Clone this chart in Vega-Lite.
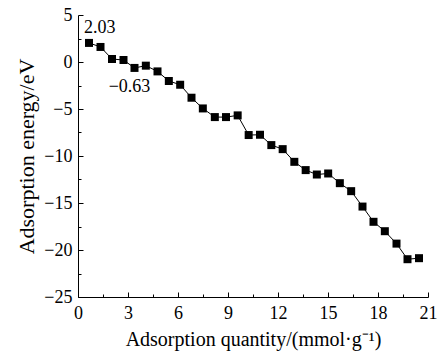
{
  "$schema": "https://vega.github.io/schema/vega-lite/v6.json",
  "width": 350,
  "height": 282,
  "autosize": "none",
  "padding": {"left": 78, "top": 15, "right": 11, "bottom": 54},
  "background": "white",
  "config": {
    "view": {"stroke": null},
    "font": "Liberation Serif",
    "text": {"font": "Liberation Serif"},
    "axis": {"grid": false, "domainColor": "black", "tickColor": "black", "labelColor": "black", "titleColor": "black", "labelFont": "Liberation Serif", "titleFont": "Liberation Serif", "labelFontSize": 18, "titleFontSize": 20, "titleFontWeight": "normal", "domainWidth": 1, "tickWidth": 1}
  },
  "data": {"values": [
    {"q": 0.66, "e": 2.03, "label": "2.03", "pos": "top"},
    {"q": 1.35, "e": 1.6},
    {"q": 2.04, "e": 0.32},
    {"q": 2.73, "e": 0.21},
    {"q": 3.39, "e": -0.63, "label": "−0.63", "pos": "bottom"},
    {"q": 4.07, "e": -0.39},
    {"q": 4.77, "e": -1.0},
    {"q": 5.45, "e": -2.02},
    {"q": 6.13, "e": -2.42},
    {"q": 6.81, "e": -3.8},
    {"q": 7.49, "e": -4.94},
    {"q": 8.21, "e": -5.86},
    {"q": 8.88, "e": -5.86},
    {"q": 9.58, "e": -5.68},
    {"q": 10.24, "e": -7.77},
    {"q": 10.92, "e": -7.74},
    {"q": 11.6, "e": -8.84},
    {"q": 12.28, "e": -9.27},
    {"q": 12.98, "e": -10.62},
    {"q": 13.66, "e": -11.5},
    {"q": 14.33, "e": -11.97},
    {"q": 15.01, "e": -11.86},
    {"q": 15.71, "e": -12.89},
    {"q": 16.39, "e": -13.74},
    {"q": 17.07, "e": -15.38},
    {"q": 17.73, "e": -17.0},
    {"q": 18.41, "e": -18.0},
    {"q": 19.11, "e": -19.32},
    {"q": 19.77, "e": -20.98},
    {"q": 20.46, "e": -20.87}
  ]},
  "encoding": {
    "x": {"field": "q", "type": "quantitative", "scale": {"domain": [0, 21], "nice": false},
      "axis": {"values": [0, 1.5, 3, 4.5, 6, 7.5, 9, 10.5, 12, 13.5, 15, 16.5, 18, 19.5, 21],
        "labelExpr": "datum.value % 3 === 0 ? datum.label : ''",
        "tickSize": {"condition": {"test": "datum.value % 3 === 0", "value": -5}, "value": -3},
        "labelPadding": 12, "labelFlush": false, "labelOverlap": false,
        "title": "Adsorption quantity/(mmol·g⁻¹)", "titleFontSize": 20, "titlePadding": 5}},
    "y": {"field": "e", "type": "quantitative", "scale": {"domain": [-25, 5], "nice": false},
      "axis": {"values": [-25, -22.5, -20, -17.5, -15, -12.5, -10, -7.5, -5, -2.5, 0, 2.5, 5],
        "labelExpr": "datum.value % 5 === 0 ? replace(datum.label, '-', '−') : ''",
        "tickSize": {"condition": {"test": "datum.value % 5 === 0", "value": -5}, "value": -3},
        "labelPadding": 11, "labelFlush": false, "labelOverlap": false,
        "title": "Adsorption energy/eV", "titleFontSize": 22, "titlePadding": 5}}
  },
  "layer": [
    {"mark": {"type": "line", "color": "black", "strokeWidth": 1}},
    {"mark": {"type": "square", "color": "black", "size": 64, "opacity": 1, "filled": true}},
    {
      "transform": [{"filter": "datum.pos == 'top'"}],
      "mark": {"type": "text", "fontSize": 18, "align": "left", "baseline": "middle", "dx": -5, "dy": -15, "color": "black"},
      "encoding": {"text": {"field": "label"}}
    },
    {
      "transform": [{"filter": "datum.pos == 'bottom'"}],
      "mark": {"type": "text", "fontSize": 18, "align": "center", "baseline": "middle", "dx": -5, "dy": 19, "color": "black"},
      "encoding": {"text": {"field": "label"}}
    }
  ]
}
